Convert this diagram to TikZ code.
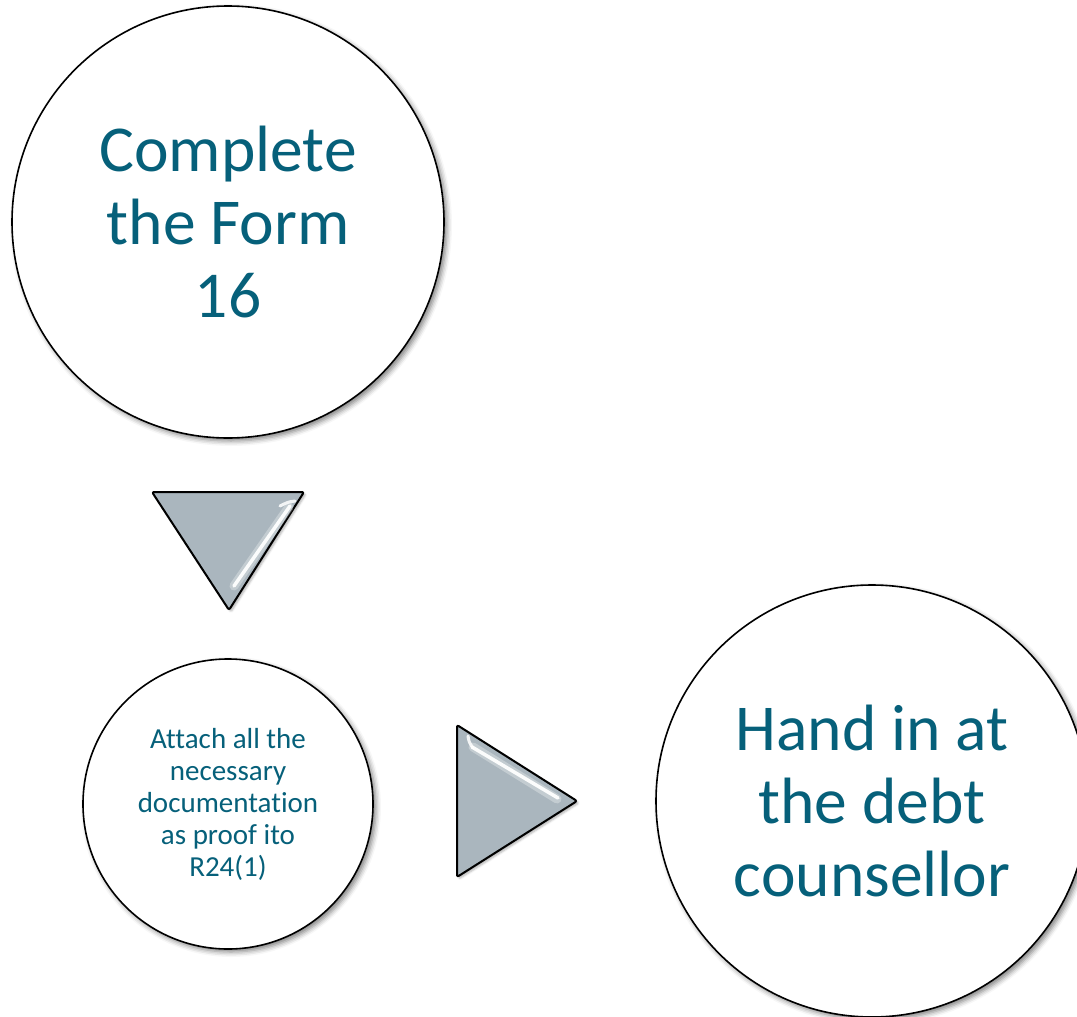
\documentclass[tikz,border=0pt]{standalone}
\usepackage{fontspec}
\setmainfont{Carlito}[Ligatures={NoCommon,NoContextual}]
\usetikzlibrary{shadows.blur}
\definecolor{steptext}{RGB}{6,96,122}
\definecolor{arrowgray}{RGB}{170,182,190}
\begin{document}
\begin{tikzpicture}[x=1pt,y=-1pt,
  stepcircle/.style={circle, draw=black, line width=1.6pt, fill=white,
    inner sep=0pt, align=center, text=steptext,
    blur shadow={shadow xshift=3pt, shadow yshift=-3pt,
                 shadow blur radius=5pt, shadow opacity=50}},
  bigtext/.style={font=\fontsize{65.5}{73}\selectfont},
  smalltext/.style={font=\fontsize{29}{32}\selectfont},
  arrowtri/.style={draw=black, line width=2pt, fill=arrowgray,
    rounded corners=2pt, line join=round,
    blur shadow={shadow xshift=2pt, shadow yshift=-2pt,
                 shadow blur radius=2pt, shadow opacity=30}},
  glint/.style={white, line cap=round}
]
\useasboundingbox (0,0) rectangle (1077,1017);
\clip (0,0) rectangle (1077,1017);

% step circles
\node[stepcircle, bigtext, minimum size=432pt] (form) at (228,222)
  {Complete\\the Form\\16};
\node[stepcircle, smalltext, minimum size=290pt] (attach) at (228,804)
  {Attach all the\\necessary\\documentation\\as proof ito\\R24(1)};
\node[stepcircle, bigtext, minimum size=432pt] (hand) at (872,801)
  {Hand in at\\the debt\\counsellor};

% downward arrow between the first two steps
\coordinate (d1) at (152,492);
\coordinate (d2) at (304,492);
\coordinate (d3) at (229,610);
\draw[arrowtri] (d1) -- (d2) -- (d3) -- cycle;
\draw[glint, line width=9pt, opacity=0.3] (289,507) -- (234,586);
\draw[glint, line width=3.5pt, opacity=0.95] (290,506) -- (234,586);
\draw[glint, line width=3pt, opacity=0.85] (280,506) .. controls (288,502) .. (295,501);

% rightward arrow between the last two steps
\coordinate (r1) at (457,725);
\coordinate (r2) at (457,877);
\coordinate (r3) at (577,801);
\draw[arrowtri] (r1) -- (r3) -- (r2) -- cycle;
\draw[glint, line width=9pt, opacity=0.3] (473,747) -- (557,799);
\draw[glint, line width=3.5pt, opacity=0.95] (472,747) -- (558,798);
\draw[glint, line width=3pt, opacity=0.85] (468,736) .. controls (469,742) .. (473,748);
\end{tikzpicture}
\end{document}
